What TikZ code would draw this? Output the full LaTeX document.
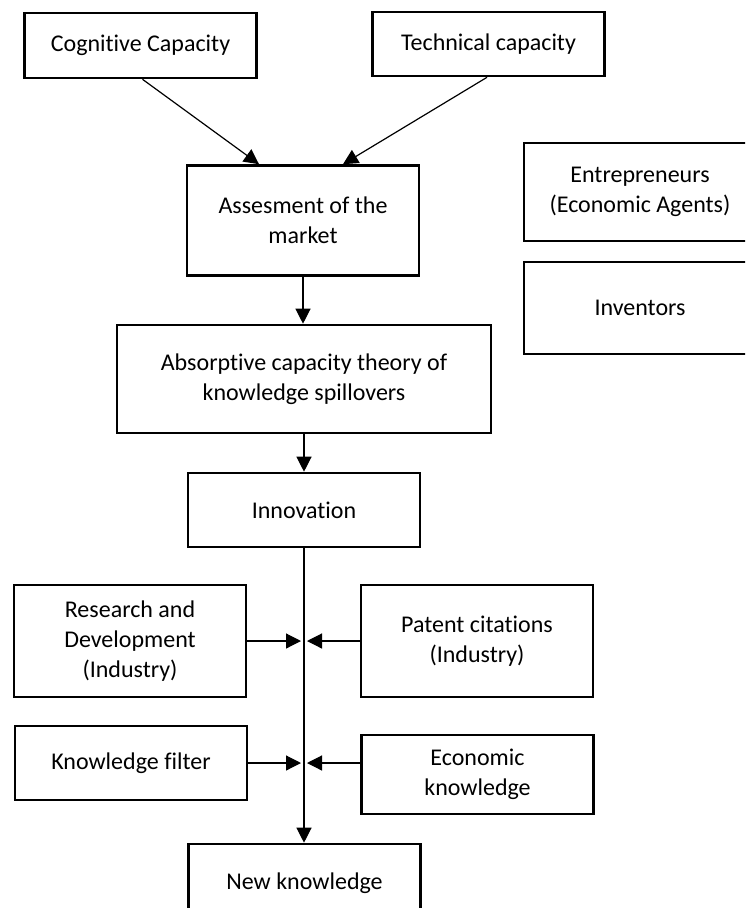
\documentclass[tikz,border=0pt]{standalone}
\usepackage{fontspec}
\setmainfont[Ligatures=NoCommon]{Carlito}
\usetikzlibrary{arrows.meta,calc}
\begin{document}
\begin{tikzpicture}[x=1pt,y=-1pt,
  box/.style={draw=black, line width=2.6pt, align=center, inner sep=0pt,
    minimum width=232pt, font=\fontsize{24}{30}\selectfont, text=black},
  link/.style={draw=black, line width=1.2pt, -{Triangle[length=15pt,width=15pt]}},
]
\clip (0,0) rectangle (745,908);

% top row
\node[box, minimum height=65pt] (cog)  at (140.5,45.5) {Cognitive Capacity};
\node[box, minimum height=64pt] (tech) at (488.5,44)   {Technical capacity};

% main chain
\node[box, minimum height=110pt] (assess) at (303,220.5) {Assesment of the\\market};
\node[box, minimum width=374pt, minimum height=108pt] (absorb) at (304,379)
  {Absorptive capacity theory of\\knowledge spillovers};
\node[box, minimum height=74pt] (innov) at (304,510) {Innovation};
\node[box, minimum height=78pt] (newk)  at (304.5,883) {New knowledge};

% actors on the right
\node[box, minimum height=98pt] (entre) at (640,192) {Entrepreneurs\\(Economic Agents)};
\node[box, minimum height=92pt] (inv)   at (640,308) {Inventors};

% inputs to the innovation line
\node[box, minimum height=112pt] (rd)     at (130,641)   {Research and\\Development\\(Industry)};
\node[box, minimum height=112pt] (patent) at (477,641)   {Patent citations\\(Industry)};
\node[box, minimum height=74pt]  (kf)     at (131,763)   {Knowledge filter};
\node[box, minimum height=79pt]  (ek)     at (477.5,774.5) {Economic\\knowledge};

% connectors
\draw[link] ([xshift=2pt]cog.south) -- ([xshift=-44pt]assess.north);
\draw[link] ([xshift=-1.5pt]tech.south) -- ([xshift=40pt]assess.north);
\draw[link] (assess.south) -- (assess.south |- absorb.north);
\draw[link] (absorb.south) -- (absorb.south |- innov.north);
\draw[link] (innov.south) -- (innov.south |- newk.north);

\draw[link, shorten >=3pt] (rd.east) -- (rd.east -| innov.south);
\draw[link, shorten >=3pt] (patent.west) -- (patent.west -| innov.south);
\draw[link, shorten >=3pt] (kf.east) -- (kf.east -| innov.south);
\draw[link, shorten >=3pt] (ek.west |- kf.east) -- (innov.south |- kf.east);
\end{tikzpicture}
\end{document}
